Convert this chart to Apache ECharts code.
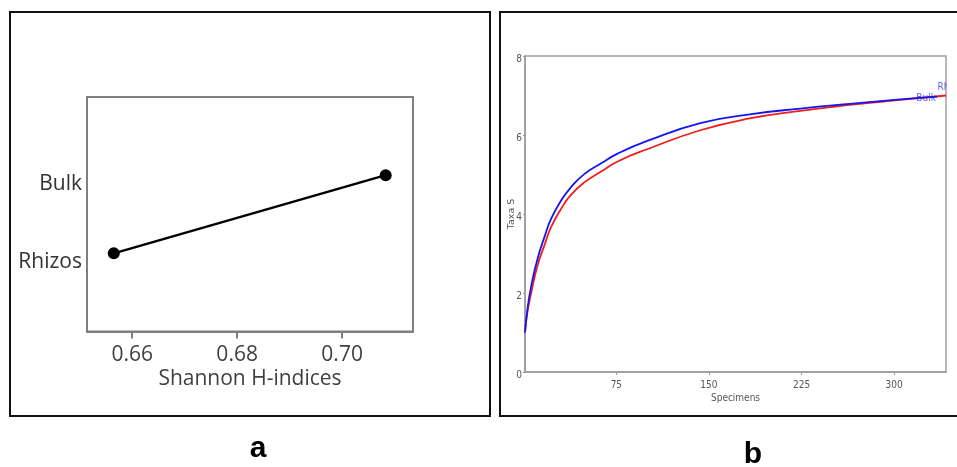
<!DOCTYPE html>
<html><head><meta charset="utf-8">
<script src="https://cdn.jsdelivr.net/npm/echarts@6/dist/echarts.min.js"></script>
<style>
html,body{margin:0;padding:0;width:957px;height:467px;overflow:hidden;background:#fff;}
#frameA{position:absolute;left:9px;top:11px;width:478px;height:402px;border:2px solid #111;}
#frameB{position:absolute;left:499px;top:11px;width:600px;height:402px;border:2px solid #111;}
#chartA{position:absolute;left:0;top:0;width:495px;height:467px;}
#chartB{position:absolute;left:500px;top:0;width:447px;height:467px;}
</style></head><body>
<div id="frameA"></div><div id="frameB"></div>
<div id="chartA"></div><div id="chartB"></div>
<script>
// ---- Panel a: Shannon H-indices ----
const groups = ['Rhizos', 'Bulk'];
const shannonH = [0.6565, 0.7083];
const shannonTicks = [0.66, 0.68, 0.70];

// ---- Panel b: rarefaction curves ----
const bulkSpecimens = [1, 3, 6, 11, 17, 22, 30, 38, 49, 63, 76, 100, 143, 183, 224, 264, 305, 335];
const bulkTaxa = [1.0, 1.6, 2.17, 2.85, 3.44, 3.87, 4.33, 4.67, 5.01, 5.29, 5.53, 5.85, 6.30, 6.52, 6.67, 6.79, 6.90, 6.97];
const rhizosSpecimens = [1, 3, 6, 11, 17, 22, 30, 38, 49, 63, 76, 100, 143, 183, 224, 264, 305, 342];
const rhizosTaxa = [1.0, 1.52, 2.0, 2.68, 3.23, 3.66, 4.12, 4.48, 4.80, 5.08, 5.33, 5.64, 6.12, 6.42, 6.61, 6.76, 6.89, 7.0];
const specimenTicks = [75, 150, 225, 300];
const curveNames = ['Bulk', 'Rhizos'];

const uiFont = 'Open Sans';
const narrowFont = '"Liberation Sans Narrow", "DejaVu Sans Condensed", "Liberation Sans", sans-serif';

// Chart A
const chartA = echarts.init(document.getElementById('chartA'));
chartA.setOption({
  animation: false,
  grid: { left: 87, top: 97, width: 326, height: 234.5, show: true, borderColor: '#7f7f7f', borderWidth: 2, outerBoundsMode: 'none', containLabel: false },
  xAxis: {
    type: 'value', min: 0.6514, max: 0.7135,
    axisLine: { show: true, lineStyle: { color: '#7f7f7f', width: 2 } },
    axisTick: { show: true, length: 7, customValues: shannonTicks, lineStyle: { color: '#7f7f7f', width: 2 } },
    axisLabel: { customValues: shannonTicks, formatter: v => v.toFixed(2), fontFamily: uiFont, fontSize: 21, color: '#404040', margin: 13 },
    splitLine: { show: false },
    name: 'Shannon H-indices', nameLocation: 'middle', nameGap: 37, nameMoveOverlap: false,
    nameTextStyle: { fontFamily: uiFont, fontSize: 21, color: '#404040' }
  },
  yAxis: {
    type: 'value', min: 0, max: 3, interval: 1,
    axisLine: { show: false }, axisTick: { show: false }, splitLine: { show: false },
    axisLabel: { customValues: [1, 2], formatter: v => groups[v - 1] || '', fontFamily: uiFont, fontSize: 21, color: '#333', margin: 5, verticalAlign: 'top', lineHeight: 17 }
  },
  series: [{
    type: 'line',
    data: groups.map((g, i) => [shannonH[i], i + 1]),
    symbol: 'circle', symbolSize: 12,
    lineStyle: { color: '#000', width: 2.5 },
    itemStyle: { color: '#000' }
  }],
  graphic: [{
    type: 'text', x: 258, y: 449,
    style: { text: 'a', fill: '#000', font: 'bold 30px "Liberation Sans Narrow", "Liberation Sans", sans-serif', align: 'center', verticalAlign: 'middle' }
  }]
});

// Chart B
const chartB = echarts.init(document.getElementById('chartB'));
chartB.setOption({
  animation: false,
  grid: { left: 25, top: 56, right: 1, bottom: 95, show: true, borderColor: '#a0a0a0', borderWidth: 1.5, outerBoundsMode: 'none', containLabel: false },
  xAxis: {
    type: 'value', min: 1, max: 342,
    axisLine: { show: true, lineStyle: { color: '#9a9a9a', width: 1.5 } },
    axisTick: { show: true, length: 3, customValues: specimenTicks, lineStyle: { color: '#9a9a9a' } },
    axisLabel: { customValues: specimenTicks, fontFamily: narrowFont, fontSize: 10, color: '#555', margin: 8 },
    splitLine: { show: false },
    name: 'Specimens', nameLocation: 'middle', nameGap: 21, nameMoveOverlap: false,
    nameTextStyle: { fontFamily: narrowFont, fontSize: 10, color: '#555' }
  },
  yAxis: {
    type: 'value', min: 0, max: 8, interval: 2,
    axisLine: { show: true, lineStyle: { color: '#9a9a9a', width: 1.5 } },
    axisTick: { show: true, length: 2, lineStyle: { color: '#9a9a9a' } },
    axisLabel: { fontFamily: narrowFont, fontSize: 10, color: '#555', margin: 3, verticalAlign: 'top', lineHeight: 6 },
    splitLine: { show: false },
    name: 'Taxa S', nameLocation: 'middle', nameGap: 8.5, nameMoveOverlap: false,
    nameTextStyle: { fontFamily: 'DejaVu Sans', fontSize: 9.5, color: '#555' }
  },
  series: [
    {
      type: 'line', name: curveNames[1],
      data: rhizosSpecimens.map((x, i) => [x, rhizosTaxa[i]]),
      showSymbol: false, smooth: 0.5,
      lineStyle: { color: '#f21c1c', width: 1.8 }, itemStyle: { color: '#f21c1c' }
    },
    {
      type: 'line', name: curveNames[0],
      data: bulkSpecimens.map((x, i) => [x, bulkTaxa[i]]),
      showSymbol: false, smooth: 0.5,
      lineStyle: { color: '#1515f0', width: 1.8 }, itemStyle: { color: '#1515f0' }
    },
    {
      type: 'scatter', silent: true, symbolSize: 1,
      itemStyle: { color: 'rgba(0,0,0,0)' },
      data: [
        { value: [bulkSpecimens[bulkSpecimens.length - 1], bulkTaxa[bulkTaxa.length - 1]],
          label: { show: true, formatter: curveNames[0], position: 'left', distance: 1, offset: [0, 2] } },
        { value: [rhizosSpecimens[rhizosSpecimens.length - 1], rhizosTaxa[rhizosTaxa.length - 1]],
          label: { show: true, formatter: curveNames[1], position: [-8, -8], align: 'left', verticalAlign: 'middle' } }
      ],
      label: { fontFamily: narrowFont, fontSize: 10, color: '#3a3aee' }
    }
  ],
  graphic: [{
    type: 'text', x: 253, y: 455,
    style: { text: 'b', fill: '#000', font: 'bold 30px "Liberation Sans Narrow", "Liberation Sans", sans-serif', align: 'center', verticalAlign: 'middle' }
  }]
});
</script>
</body></html>
